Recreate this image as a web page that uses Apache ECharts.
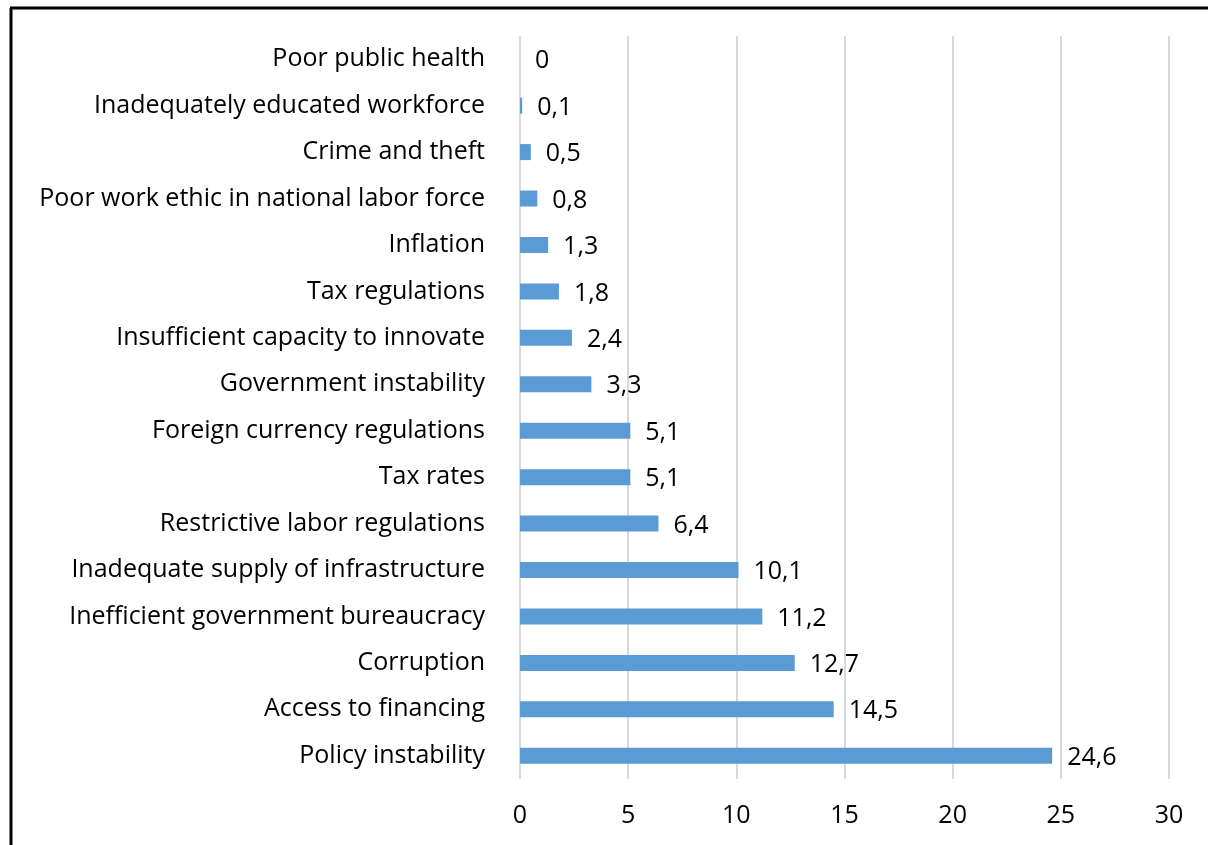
<!DOCTYPE html>
<html><head><meta charset="utf-8">
<script src="https://cdn.jsdelivr.net/npm/echarts@6/dist/echarts.min.js"></script>
<style>html,body{margin:0;padding:0;background:#fff;}#c{width:1208px;height:845px;}</style>
</head><body><div id="c"></div>
<script>
const categories = ["Policy instability","Access to financing","Corruption","Inefficient government bureaucracy","Inadequate supply of infrastructure","Restrictive labor regulations","Tax rates","Foreign currency regulations","Government instability","Insufficient capacity to innovate","Tax regulations","Inflation","Poor work ethic in national labor force","Crime and theft","Inadequately educated workforce","Poor public health"];
const values = [24.6,14.5,12.7,11.2,10.1,6.4,5.1,5.1,3.3,2.4,1.8,1.3,0.8,0.5,0.1,0];
const xTicks = [0,5,10,15,20,25,30];
const FONT = "Open Sans";
const FS = 25;
const chart = echarts.init(document.getElementById('c'));
chart.setOption({
  animation:false,
  grid:{left:520,right:39,top:36,bottom:66,containLabel:false},
  xAxis:{type:'value',min:xTicks[0],max:xTicks[xTicks.length-1],interval:5,
    axisLine:{show:false},axisTick:{show:false},
    axisLabel:{fontFamily:FONT,fontSize:FS,color:'#000',margin:24},
    splitLine:{show:true,lineStyle:{color:'#d9d9d9',width:2}}},
  yAxis:{type:'category',data:categories,
    axisLine:{show:false},axisTick:{show:false},
    axisLabel:{fontFamily:FONT,fontSize:FS,color:'#000',margin:35,padding:[4,0,0,0]}},
  series:[{type:'bar',data:values,barWidth:16,
    itemStyle:{color:'#5b9bd5'},
    label:{show:true,position:'right',distance:15,fontFamily:FONT,fontSize:FS,color:'#000',offset:[0,2],
      formatter:p=>String(p.value).replace('.',',')}}],
  graphic:[
    {type:'line',shape:{x1:11,y1:8,x2:11,y2:900},style:{stroke:'#000',lineWidth:3}},
    {type:'line',shape:{x1:10,y1:8,x2:1300,y2:8},style:{stroke:'#000',lineWidth:3}}
  ]
});
</script></body></html>
